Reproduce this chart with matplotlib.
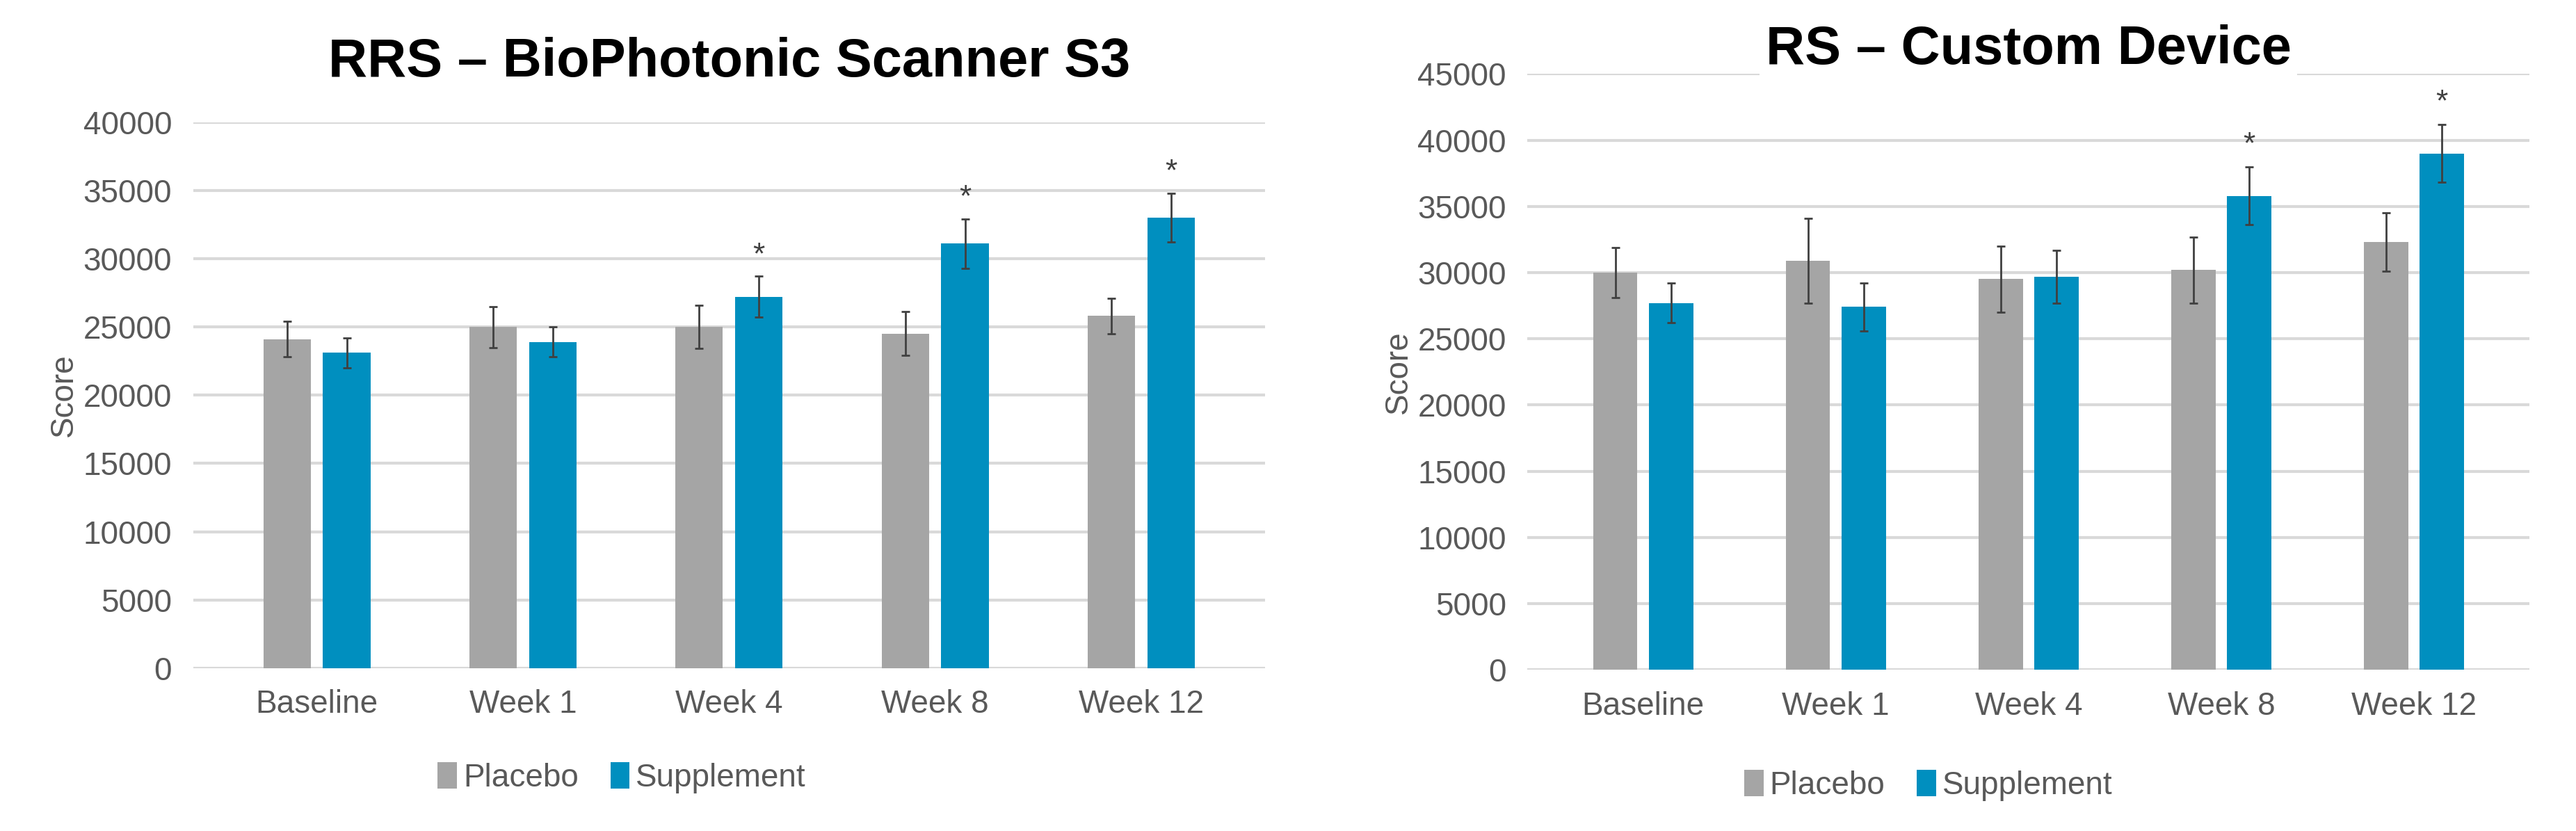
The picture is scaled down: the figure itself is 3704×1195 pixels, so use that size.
import numpy as np
import matplotlib.pyplot as plt

plt.rcParams['font.family'] = ['Liberation Sans', 'DejaVu Sans']

categories = ['Baseline', 'Week 1', 'Week 4', 'Week 8', 'Week 12']

# RRS - BioPhotonic Scanner S3
rrs_placebo = [24100, 25000, 25000, 24500, 25800]
rrs_placebo_err = [1300, 1500, 1600, 1600, 1300]
rrs_supp = [23100, 23900, 27200, 31100, 33000]
rrs_supp_err = [1100, 1100, 1500, 1800, 1800]
rrs_sig = [False, False, True, True, True]

# RS - Custom Device
rs_placebo = [30000, 30900, 29500, 30200, 32300]
rs_placebo_err = [1900, 3200, 2500, 2500, 2200]
rs_supp = [27700, 27400, 29700, 35800, 39000]
rs_supp_err = [1500, 1800, 2000, 2200, 2200]
rs_sig = [False, False, False, True, True]

grey = '#A5A5A5'
blue = '#008FBF'
txt = '#595959'

fig = plt.figure(figsize=(37.04, 11.95), dpi=100)


def panel(rect, title, plac, plac_err, supp, supp_err, sig, ymax, title_y, leg_x):
    ax = fig.add_axes(rect)
    x = np.arange(len(categories))
    w = 0.23
    ekw = dict(ecolor='#404040', elinewidth=2, capsize=4, capthick=2)
    ax.bar(x - 0.145, plac, w, yerr=plac_err, color=grey, label='Placebo', error_kw=ekw, zorder=3)
    ax.bar(x + 0.145, supp, w, yerr=supp_err, color=blue, label='Supplement', error_kw=ekw, zorder=3)
    for i in range(len(x)):
        if sig[i]:
            ax.text(x[i] + 0.145, supp[i] + supp_err[i] + ymax * 0.012, '*', ha='center',
                    va='bottom', fontsize=32, color='#404040')
    ax.set_ylim(0, ymax)
    ax.set_xlim(-0.6, len(x) - 0.4)
    ax.set_yticks(np.arange(0, ymax + 1, 5000))
    ax.set_xticks(x)
    ax.set_xticklabels(categories)
    ax.grid(axis='y', color='#D9D9D9', linewidth=3, zorder=0)
    ax.set_axisbelow(True)
    for s in ax.spines.values():
        s.set_visible(False)
    ax.tick_params(length=0, labelsize=33, colors=txt, pad=22)
    ax.set_ylabel('Score', fontsize=33, color=txt, labelpad=4)
    fig.text(rect[0] + rect[2] * 0.5, title_y, title, ha='center', va='center',
             fontsize=56, fontweight='bold', color='black',
             bbox=dict(facecolor='white', edgecolor='none', pad=6))
    ax.legend(loc='upper center', bbox_to_anchor=(leg_x, -0.12), ncol=2, frameon=False,
              fontsize=33, labelcolor=txt, handlelength=0.6, handleheight=0.9,
              handletextpad=0.2, columnspacing=1.0)
    return ax


panel([0.075, 0.196, 0.416, 0.657], 'RRS \u2013 BioPhotonic Scanner S3',
      rrs_placebo, rrs_placebo_err, rrs_supp, rrs_supp_err, rrs_sig, 40000, 0.925, 0.4)
panel([0.593, 0.194, 0.389, 0.717], 'RS \u2013 Custom Device',
      rs_placebo, rs_placebo_err, rs_supp, rs_supp_err, rs_sig, 45000, 0.94, 0.4)

fig.savefig('out.png', dpi=100, facecolor='white')
